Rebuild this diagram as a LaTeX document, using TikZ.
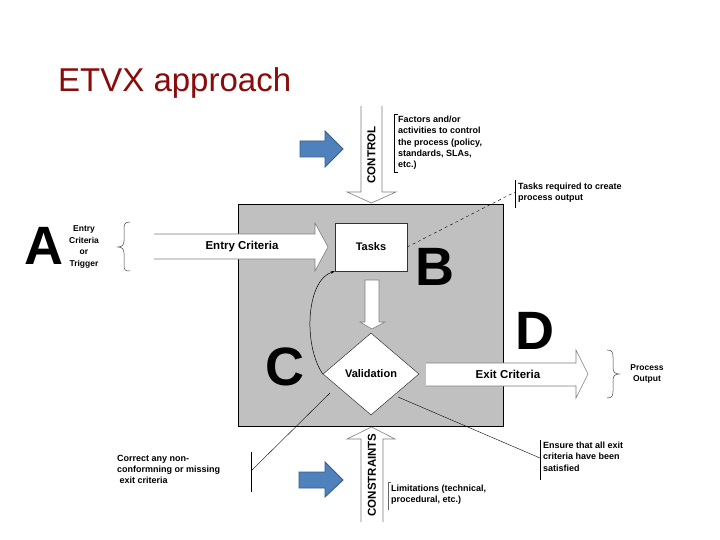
\documentclass[tikz,border=0pt]{standalone}
\usepackage{fontspec}
\setmainfont{Liberation Sans}
\usepackage{xcolor}
\definecolor{etvxred}{HTML}{8B0B0B}
\definecolor{etvxgray}{HTML}{C0C0C0}
\definecolor{etvxline}{HTML}{7F7F7F}
\definecolor{etvxblue}{HTML}{4F81BD}
\definecolor{etvxblueedge}{HTML}{385D8A}
\usepackage{tikz}
\usetikzlibrary{arrows.meta,shapes.geometric}
\tikzset{
  etvxbox/.style    ={rectangle, draw=black, fill=etvxgray, line width=0.6pt,
                      minimum width=265, minimum height=222, inner sep=0pt},
  etvxtask/.style   ={rectangle, draw=black!80, fill=white, line width=0.5pt,
                      minimum width=72, minimum height=48, inner sep=0pt,
                      font=\bfseries\fontsize{11}{13}\selectfont},
  etvxval/.style    ={diamond, draw=black!80, fill=white, line width=0.5pt,
                      minimum width=96, minimum height=82, inner sep=0pt,
                      font=\bfseries\fontsize{11}{13}\selectfont},
  etvxfill/.style   ={fill=white},
  etvxedge/.style   ={draw=etvxline, line width=0.6pt},
  etvxlbl/.style    ={font=\bfseries\fontsize{11.5}{13}\selectfont, inner sep=0pt},
  etvxblk/.style    ={fill=etvxblue, draw=etvxblueedge, line width=0.9pt},
  etvxletter/.style ={font=\bfseries\fontsize{54}{54}\selectfont, inner sep=0pt},
  etvxnote/.style   ={font=\bfseries\fontsize{9}{11.2}\selectfont, align=left,
                      anchor=north west, inner sep=0pt},
  etvxsmall/.style  ={font=\bfseries\fontsize{8.5}{11.5}\selectfont, align=center,
                      inner sep=0pt},
  etvxcall/.style   ={draw=black, line width=0.4pt},
  etvxbrace/.style  ={draw=black!75, line width=0.5pt},
  etvxcurve/.style  ={draw=black, line width=0.5pt, -{Stealth[length=4pt,width=3pt]}},
}

\begin{document}
\begin{tikzpicture}[x=1pt, y=-1pt]
  \useasboundingbox[fill=white] (0,0) rectangle (720,540);

  % title
  \node[anchor=base west, inner sep=0pt, text=etvxred,
        font=\fontsize{33}{37}\selectfont] (title) at (58,92) {ETVX approach};

  % the process square
  \node[etvxbox] (proc) at (370.5,315) {};
  \node[etvxtask] (tasks) at (371,247) {Tasks};
  \node[etvxval] (val) at (371,374) {Validation};

  % entry criteria arrow
  \fill[etvxfill] (154,234) -- (315,234) -- (315,223) -- (328,247)
        -- (315,271) -- (315,259) -- (154,259) -- cycle;
  \draw[etvxedge] (154,234) -- (315,234) -- (315,223) -- (328,247)
        -- (315,271) -- (315,259) -- (154,259);
  \node[etvxlbl] (entrylbl) at (242,247) {Entry Criteria};

  % control arrow
  \fill[etvxfill] (361,106) -- (361,192) -- (347,192) -- (371.5,203)
        -- (396,192) -- (382,192) -- (382,106) -- cycle;
  \draw[etvxedge] (361,106) -- (361,192) -- (347,192) -- (371.5,203)
        -- (396,192) -- (382,192) -- (382,106);
  \node[etvxlbl, rotate=90] (ctrllbl) at (371.5,155) {CONTROL};

  % constraints arrow
  \fill[etvxfill] (361,522) -- (361,439) -- (347,439) -- (371.5,427)
        -- (395,439) -- (383,439) -- (383,522) -- cycle;
  \draw[etvxedge] (361,522) -- (361,439) -- (347,439) -- (371.5,427)
        -- (395,439) -- (383,439) -- (383,522);
  \node[etvxlbl, rotate=90] (conslbl) at (372,475) {CONSTRAINTS};

  % tasks to validation
  \filldraw[etvxfill, etvxedge] (365,280) -- (365,322) -- (360,322) -- (372,329)
        -- (385,322) -- (379,322) -- (379,280) -- cycle;

  % exit criteria arrow
  \fill[etvxfill] (426,363) -- (576,363) -- (576,350) -- (588,374)
        -- (576,398) -- (576,386) -- (426,386) -- cycle;
  \draw[etvxedge] (426,363) -- (576,363) -- (576,350) -- (588,374)
        -- (576,398) -- (576,386) -- (426,386);
  \node[etvxlbl] (exitlbl) at (508,374) {Exit Criteria};

  % rework loop
  \draw[etvxcurve] (val.west) .. controls (303,345) and (306,280) .. (tasks.south west);

  % blue pointers
  \filldraw[etvxblk] (300,141) -- (325,141) -- (325,131) -- (343,149)
        -- (325,167) -- (325,157) -- (300,157) -- cycle;
  \filldraw[etvxblk] (299,472) -- (325,472) -- (325,462) -- (343,480)
        -- (325,497) -- (325,488) -- (299,488) -- cycle;

  % letters
  \node[etvxletter] (letA) at (44,246) {A};
  \node[etvxletter] (letB) at (435,267) {B};
  \node[etvxletter] (letC) at (285,367) {C};
  \node[etvxletter] (letD) at (535,331) {D};

  % input and output
  \node[etvxsmall] (entrytxt) at (84,247) {Entry\\Criteria\\or\\Trigger};
  \draw[etvxbrace] (130,222) .. controls (125,222) and (124,224) .. (124,229)
        -- (124,241) .. controls (124,245) and (122,247) .. (118,247)
        .. controls (122,247) and (124,249) .. (124,253)
        -- (124,265) .. controls (124,270) and (125,271) .. (130,271);
  \node[etvxsmall] (outtxt) at (647,374) {Process\\Output};
  \draw[etvxbrace] (607,350) .. controls (612,350) and (613,352) .. (613,357)
        -- (613,368) .. controls (613,372) and (615,374) .. (619,374)
        .. controls (615,374) and (613,376) .. (613,380)
        -- (613,391) .. controls (613,396) and (612,398) .. (607,398);

  % callouts
  \draw[etvxcall] (398,114) -- (394,114) -- (394,172) -- (398,172);
  \node[etvxnote] (ctrltxt) at (398,116)
       {Factors and/or\\activities to control\\the process (policy,\\standards, SLAs,\\etc.)};

  \coordinate (taskend) at (515,192);
  \draw[etvxcall] (515,180) -- (515,208);
  \draw[etvxcall, dashed] (tasks.east) -- (taskend);
  \node[etvxnote] (tasktxt) at (518,183) {Tasks required to create\\process output};

  \coordinate (corrstart) at (330,393);
  \coordinate (corrend) at (251,471);
  \draw[etvxcall] (251,452) -- (251,492);
  \draw[etvxcall] (corrstart) -- (corrend);
  \node[etvxnote] (corrtxt) at (117,455)
       {Correct any non-\\conformning or missing\\\ exit criteria};

  \coordinate (ensstart) at (398,397);
  \coordinate (ensend) at (540,458);
  \draw[etvxcall] (540,440) -- (540,480);
  \draw[etvxcall] (ensstart) -- (ensend);
  \node[etvxnote] (enstxt) at (543,442)
       {Ensure that all exit\\criteria have been\\satisfied};

  \draw[etvxcall, draw=black!60] (391,482) -- (388,482) -- (388,510);
  \node[etvxnote] (limtxt) at (391,485) {Limitations (technical,\\procedural, etc.)};
\end{tikzpicture}
\end{document}
